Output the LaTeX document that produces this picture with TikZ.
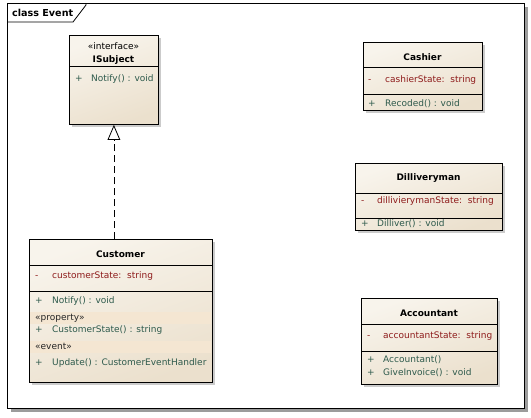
\documentclass[tikz,border=0pt]{standalone}
\usepackage{fontspec}
\setmainfont{DejaVu Sans}
\usetikzlibrary{arrows.meta}
\usetikzlibrary{positioning}
\usetikzlibrary{shadows}

\definecolor{classtop}{HTML}{F8F4EC}
\definecolor{classbottom}{HTML}{EBE0CD}
\definecolor{attrred}{HTML}{8E1B1B}
\definecolor{opgreen}{HTML}{2E5A4C}
\definecolor{stereoband}{HTML}{F4E6D2}

\tikzset{
  umlframe/.style={draw=black, line width=0.8pt, fill=white, anchor=north west, inner sep=0pt,
    drop shadow={shadow xshift=3.5pt, shadow yshift=-3.5pt, fill=black!55, opacity=0.7}},
  classbox/.style={draw=black, line width=0.8pt, top color=classtop, bottom color=classbottom,
    shading angle=20, anchor=north west, inner sep=0pt,
    drop shadow={shadow xshift=3pt, shadow yshift=-3pt, fill=black!40, opacity=0.5}},
  divider/.style={draw=black, line width=0.8pt},
  member/.style={anchor=west, inner sep=0pt, text height=6.6pt, text depth=1.8pt,
    font=\fontsize{9}{10}\selectfont},
  attr/.style={member, text=attrred},
  oper/.style={member, text=opgreen},
  stereo/.style={member, text=black!85},
  classname/.style={inner sep=0pt, font=\bfseries\fontsize{9}{10}\selectfont},
  realizes/.style={line width=0.8pt, dash pattern=on 7pt off 4pt,
    -{Triangle[open, length=15pt, width=12.6pt, fill=white]}}
}

\begin{document}
\begin{tikzpicture}[x=1pt, y=-1pt]
  \useasboundingbox[fill=white] (0,0) rectangle (531,418);

  % frame
  \node[umlframe, minimum width=517pt, minimum height=405pt] (frame) at (7,3) {};
  \draw[line width=0.8pt] (frame.west |- 0,22) -- (73,22) -- (86,5) -- (86,0 |- frame.north);
  \node[classname, anchor=west, font=\bfseries\fontsize{9.6}{11}\selectfont] (framename) at (12,13) {class Event};

  % ISubject
  \node[classbox, minimum width=89pt, minimum height=89pt] (isubject) at (69,35) {};
  \draw[divider] (isubject.west |- 0,66) -- (isubject.east |- 0,66);
  \node[member] (isubjectstereo) at (113.5,47) [anchor=center] {«interface»};
  \node[classname] (isubjectname) at (113.5,60) {ISubject};
  \node[oper] (isubjectvis) at (75,79) {+};
  \node[oper] (isubjectop) at (91,79) {Notify() : void};

  % Customer
  \node[classbox, minimum width=183pt, minimum height=143pt] (customer) at (29,239) {};
  \fill[stereoband] (30,312) rectangle (211,324);
  \fill[stereoband] (30,341) rectangle (211,353);
  \draw[divider] (customer.west |- 0,265) -- (customer.east |- 0,265);
  \draw[divider] (customer.west |- 0,291) -- (customer.east |- 0,291);
  \node[classname] (customername) at (120.5,254) {Customer};
  \node[attr] (customervis) at (35,276) {-};
  \node[attr] (customerattr) at (52,276) {customerState:\ \ string};
  \node[oper] (notifyvis) at (35,301) {+};
  \node[oper] (notifyop) at (52,301) {Notify() : void};
  \node[stereo] (propertystereo) at (35,318) {«property»};
  \node[oper] (statevis) at (35,330) {+};
  \node[oper] (stateop) at (52,330) {CustomerState() : string};
  \node[stereo] (eventstereo) at (35,347) {«event»};
  \node[oper] (updatevis) at (35,363) {+};
  \node[oper] (updateop) at (52,363) {Update() : CustomerEventHandler};

  % Cashier
  \node[classbox, minimum width=119pt, minimum height=68pt] (cashier) at (363,42) {};
  \draw[divider] (cashier.west |- 0,67) -- (cashier.east |- 0,67);
  \draw[divider] (cashier.west |- 0,94) -- (cashier.east |- 0,94);
  \node[classname] (cashiername) at (422.5,57) {Cashier};
  \node[attr] (cashiervis) at (368,80) {-};
  \node[attr] (cashierattr) at (385,80) {cashierState:\ \ string};
  \node[oper] (recodedvis) at (368,104) {+};
  \node[oper] (recodedop) at (385,104) {Recoded() : void};

  % Dilliveryman
  \node[classbox, minimum width=147pt, minimum height=67pt] (dilliveryman) at (355,163) {};
  \draw[divider] (dilliveryman.west |- 0,193) -- (dilliveryman.east |- 0,193);
  \draw[divider] (dilliveryman.west |- 0,218) -- (dilliveryman.east |- 0,218);
  \node[classname] (dilliverymanname) at (428.5,178) {Dilliveryman};
  \node[attr] (dilliverymanvis) at (361,201) {-};
  \node[attr] (dilliverymanattr) at (377,201) {dillivierymanState:\ \ string};
  \node[oper] (dillivervis) at (361,224) {+};
  \node[oper] (dilliverop) at (377,224) {Dilliver() : void};

  % Accountant
  \node[classbox, minimum width=136pt, minimum height=86pt] (accountant) at (361,298) {};
  \draw[divider] (accountant.west |- 0,324) -- (accountant.east |- 0,324);
  \draw[divider] (accountant.west |- 0,351) -- (accountant.east |- 0,351);
  \node[classname] (accountantname) at (429,313) {Accountant};
  \node[attr] (accountantvis) at (367,336) {-};
  \node[attr] (accountantattr) at (383,336) {accountantState:\ \ string};
  \node[oper] (ctorvis) at (367,360) {+};
  \node[oper] (ctorop) at (383,360) {Accountant()};
  \node[oper] (invoicevis) at (367,373) {+};
  \node[oper] (invoiceop) at (383,373) {GiveInvoice() : void};

  % realization
  \draw[realizes] (customer.north -| isubject.south) -- (isubject.south);
\end{tikzpicture}
\end{document}
